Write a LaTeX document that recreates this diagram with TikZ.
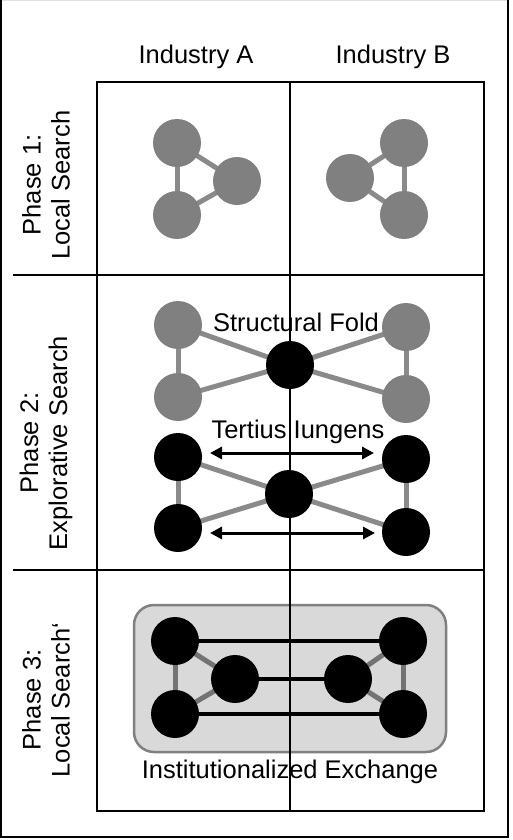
\documentclass[tikz,border=0pt]{standalone}
\usepackage{fontspec}
\setmainfont{Liberation Sans}
\usetikzlibrary{arrows.meta}
\definecolor{nodegray}{HTML}{808080}
\definecolor{edgegray}{HTML}{8A8A8A}
\definecolor{edgegraydark}{HTML}{737373}
\definecolor{boxfill}{HTML}{D9D9D9}
\pgfdeclarelayer{bg}
\pgfdeclarelayer{edges}
\pgfsetlayers{bg,edges,main}
\begin{document}
\begin{tikzpicture}[x=1pt,y=-1pt,
  txt/.style={font=\fontsize{25.5}{29}\selectfont, inner sep=0pt},
  rowlabel/.style={txt, rotate=90, align=center},
  grid/.style={line width=1.6pt, black},
  gnode/.style={circle, fill=nodegray, minimum size=48pt, inner sep=0pt},
  bnode/.style={circle, fill=black, minimum size=48pt, inner sep=0pt},
  gedge/.style={line width=5pt, edgegray},
  dedge/.style={line width=5pt, edgegraydark},
  bedge/.style={line width=3.5pt, black},
  dblarrow/.style={line width=3pt, black, {Triangle[length=12pt,width=12pt]}-{Triangle[length=12pt,width=12pt]}},
]
\useasboundingbox (0,0) rectangle (512,840);

\begin{pgfonlayer}{bg}
% outer frame
\draw[line width=1pt, black!12] (1,0.5) -- (508,0.5);
\draw[line width=2.5pt, black] (1.2,0) -- (1.2,837) -- (508,837) -- (508,0);
% grey panel of the last phase
\draw[line width=2.5pt, nodegray, fill=boxfill, rounded corners=20pt]
  (134,605) rectangle (446,752);
% grid
\draw[grid] (97,82) rectangle (484,811);
\draw[grid] (290,82) -- (290,811);
\draw[grid] (13,275) -- (484,275);
\draw[grid] (13,570) -- (484,570);
\end{pgfonlayer}

% headers
\node[txt] (hA) at (196,57) {Industry A};
\node[txt] (hB) at (393,57) {Industry B};
\node[rowlabel] (r1) at (46,185) {Phase 1:\\Local Search};
\node[rowlabel] (r2) at (46,443) {Phase 2:\\Explorative Search};
\node[rowlabel] (r3) at (46,700) {Phase 3:\\Local Search‘};

% Phase 1
\node[gnode] (a1) at (177,143) {};
\node[gnode] (a2) at (237,181) {};
\node[gnode] (a3) at (177,215) {};
\node[gnode] (b1) at (404,143) {};
\node[gnode] (b2) at (350,178) {};
\node[gnode] (b3) at (404,215) {};

% Phase 2, structural fold
\node[gnode] (sa1) at (178,325) {};
\node[gnode] (sa2) at (178,397) {};
\node[bnode] (sc) at (290,365) {};
\node[gnode] (sb1) at (406,327) {};
\node[gnode] (sb2) at (406,399) {};
\node[txt] (sf) at (296,322) {Structural Fold};

% Phase 2, tertius iungens
\node[bnode] (ta1) at (178,457) {};
\node[bnode] (ta2) at (178,528) {};
\node[bnode] (tc) at (289,494) {};
\node[bnode] (tb1) at (406,459) {};
\node[bnode] (tb2) at (406,532) {};
\node[txt] (ti) at (298,432) {Tertius Iungens};
\coordinate (u1) at (210,453);
\coordinate (u2) at (374,453);
\coordinate (l1) at (210,533);
\coordinate (l2) at (375,533);
\draw[dblarrow] (u1) -- (u2);
\draw[dblarrow] (l1) -- (l2);

% Phase 3
\node[bnode] (ia1) at (175,641) {};
\node[bnode] (ia2) at (175,714) {};
\node[bnode] (ia3) at (235,679) {};
\node[bnode] (ib3) at (348,679) {};
\node[bnode] (ib1) at (403,641) {};
\node[bnode] (ib2) at (403,714) {};
\node[txt] (ie) at (290,772) {Institutionalized Exchange};

\begin{pgfonlayer}{edges}
\foreach \p/\q in {a1/a2,a2/a3,a3/a1, b1/b2,b2/b3,b3/b1,
                   sa1/sa2,sa1/sc,sa2/sc, sb1/sb2,sb1/sc,sb2/sc,
                   ta1/ta2,ta1/tc,ta2/tc, tb1/tb2,tb1/tc,tb2/tc}
  \draw[gedge] (\p.center) -- (\q.center);
\foreach \p/\q in {ia1/ia2,ia1/ia3,ia2/ia3, ib1/ib2,ib1/ib3,ib2/ib3}
  \draw[dedge] (\p.center) -- (\q.center);
\draw[bedge] (ia1.center) -- (ib1.center);
\draw[bedge] (ia3.center) -- (ib3.center);
\draw[bedge] (ia2.center) -- (ib2.center);
\end{pgfonlayer}
\end{tikzpicture}
\end{document}
